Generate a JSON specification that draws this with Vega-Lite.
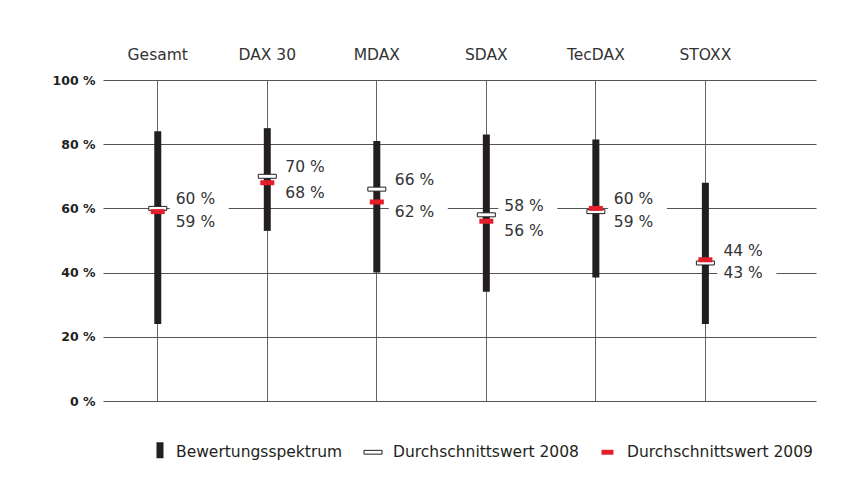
{
  "$schema": "https://vega.github.io/schema/vega-lite/v6.json",
  "width": 713,
  "height": 321,
  "autosize": "none",
  "padding": {"left": 103, "top": 80, "right": 52, "bottom": 95},
  "background": "white",
  "config": {"view": {"stroke": null}, "font": "DejaVu Sans"},
  "data": {
    "values": [
      {"Index": "Gesamt", "Min": 24, "Max": 84, "Wert2008": 60, "Wert2009": 59},
      {"Index": "DAX 30", "Min": 53, "Max": 85, "Wert2008": 70, "Wert2009": 68},
      {"Index": "MDAX", "Min": 40, "Max": 81, "Wert2008": 66, "Wert2009": 62},
      {"Index": "SDAX", "Min": 34, "Max": 83, "Wert2008": 58, "Wert2009": 56},
      {"Index": "TecDAX", "Min": 38.5, "Max": 81.5, "Wert2008": 59, "Wert2009": 60},
      {"Index": "STOXX", "Min": 24, "Max": 68, "Wert2008": 43, "Wert2009": 44}
    ]
  },
  "transform": [
    {"calculate": "max(datum.Wert2008, datum.Wert2009)", "as": "Oben"},
    {"calculate": "min(datum.Wert2008, datum.Wert2009)", "as": "Unten"},
    {"calculate": "datum.Oben + ' %'", "as": "ObenText"},
    {"calculate": "datum.Unten + ' %'", "as": "UntenText"}
  ],
  "encoding": {
    "x": {
      "field": "Index",
      "type": "nominal",
      "sort": null,
      "scale": {"paddingInner": 0, "paddingOuter": 0.255, "align": 0},
      "axis": {
        "orient": "top",
        "title": null,
        "domain": false,
        "ticks": false,
        "grid": true,
        "gridColor": "#666",
        "gridWidth": 1,
        "bandPosition": 0.5,
        "labelAngle": 0,
        "labelPadding": 18,
        "labelFont": "DejaVu Sans",
        "labelFontSize": 15.5,
        "labelColor": "#333"
      }
    }
  },
  "layer": [
    {
      "mark": {"type": "bar", "fill": "white", "width": 59, "xOffset": 41.5, "yOffset": -17, "y2Offset": 17},
      "encoding": {
        "y": {
          "field": "Oben",
          "type": "quantitative",
          "scale": {"domain": [0, 100], "nice": false},
          "axis": {
            "title": null,
            "values": [0, 20, 40, 60, 80, 100],
            "labelExpr": "datum.value + ' %'",
            "grid": true,
            "gridColor": "#555",
            "gridWidth": 1,
            "domain": false,
            "ticks": false,
            "labelPadding": 8,
            "labelFont": "DejaVu Sans",
            "labelFontWeight": "bold",
            "labelFontSize": 12.5,
            "labelColor": "#231f20"
          }
        },
        "y2": {"field": "Unten"}
      }
    },
    {
      "mark": {"type": "bar", "width": 7},
      "encoding": {
        "y": {"field": "Min", "type": "quantitative"},
        "y2": {"field": "Max"},
        "fill": {
          "datum": "Bewertungsspektrum",
          "type": "nominal",
          "scale": {
            "domain": ["Bewertungsspektrum", "Durchschnittswert 2008", "Durchschnittswert 2009"],
            "range": ["#231f20", "#ffffff", "#e41f2b"]
          },
          "legend": {
            "title": null,
            "orient": "none",
            "legendX": 43,
            "legendY": 362,
            "direction": "horizontal",
            "symbolSize": 361,
            "labelOffset": 10,
            "columnPadding": 18,
            "labelFont": "DejaVu Sans",
            "labelFontSize": 15.5,
            "labelColor": "#231f20",
            "labelLimit": 0,
            "encode": {
              "symbols": {
                "update": {
                  "shape": {"signal": "datum.value === 'Bewertungsspektrum' ? 'M0.05,-1.05H0.79V0.63H0.05Z' : datum.value === 'Durchschnittswert 2008' ? 'M-0.95,-0.2H0.95V0.2H-0.95Z' : 'M-0.58,-0.26H0.68V0.26H-0.58Z'"},
                  "stroke": {"signal": "datum.value === 'Durchschnittswert 2008' ? '#231f20' : 'transparent'"},
                  "strokeWidth": {"value": 1},
                  "opacity": {"value": 1}
                }
              }
            }
          }
        }
      }
    },
    {
      "mark": {"type": "tick", "size": 18, "thickness": 4, "stroke": "#231f20", "strokeWidth": 1, "opacity": 1},
      "encoding": {
        "y": {"field": "Wert2008", "type": "quantitative"},
        "fill": {"datum": "Durchschnittswert 2008", "type": "nominal"}
      }
    },
    {
      "mark": {"type": "tick", "size": 14, "thickness": 5, "opacity": 1},
      "encoding": {
        "y": {"field": "Wert2009", "type": "quantitative"},
        "fill": {"datum": "Durchschnittswert 2009", "type": "nominal"}
      }
    },
    {
      "mark": {"type": "text", "align": "left", "baseline": "middle", "dx": 18, "dy": -9, "font": "DejaVu Sans", "fontSize": 15.5, "fill": "#333"},
      "encoding": {
        "y": {"field": "Oben", "type": "quantitative"},
        "text": {"field": "ObenText"}
      }
    },
    {
      "mark": {"type": "text", "align": "left", "baseline": "middle", "dx": 18, "dy": 10, "font": "DejaVu Sans", "fontSize": 15.5, "fill": "#333"},
      "encoding": {
        "y": {"field": "Unten", "type": "quantitative"},
        "text": {"field": "UntenText"}
      }
    }
  ]
}
